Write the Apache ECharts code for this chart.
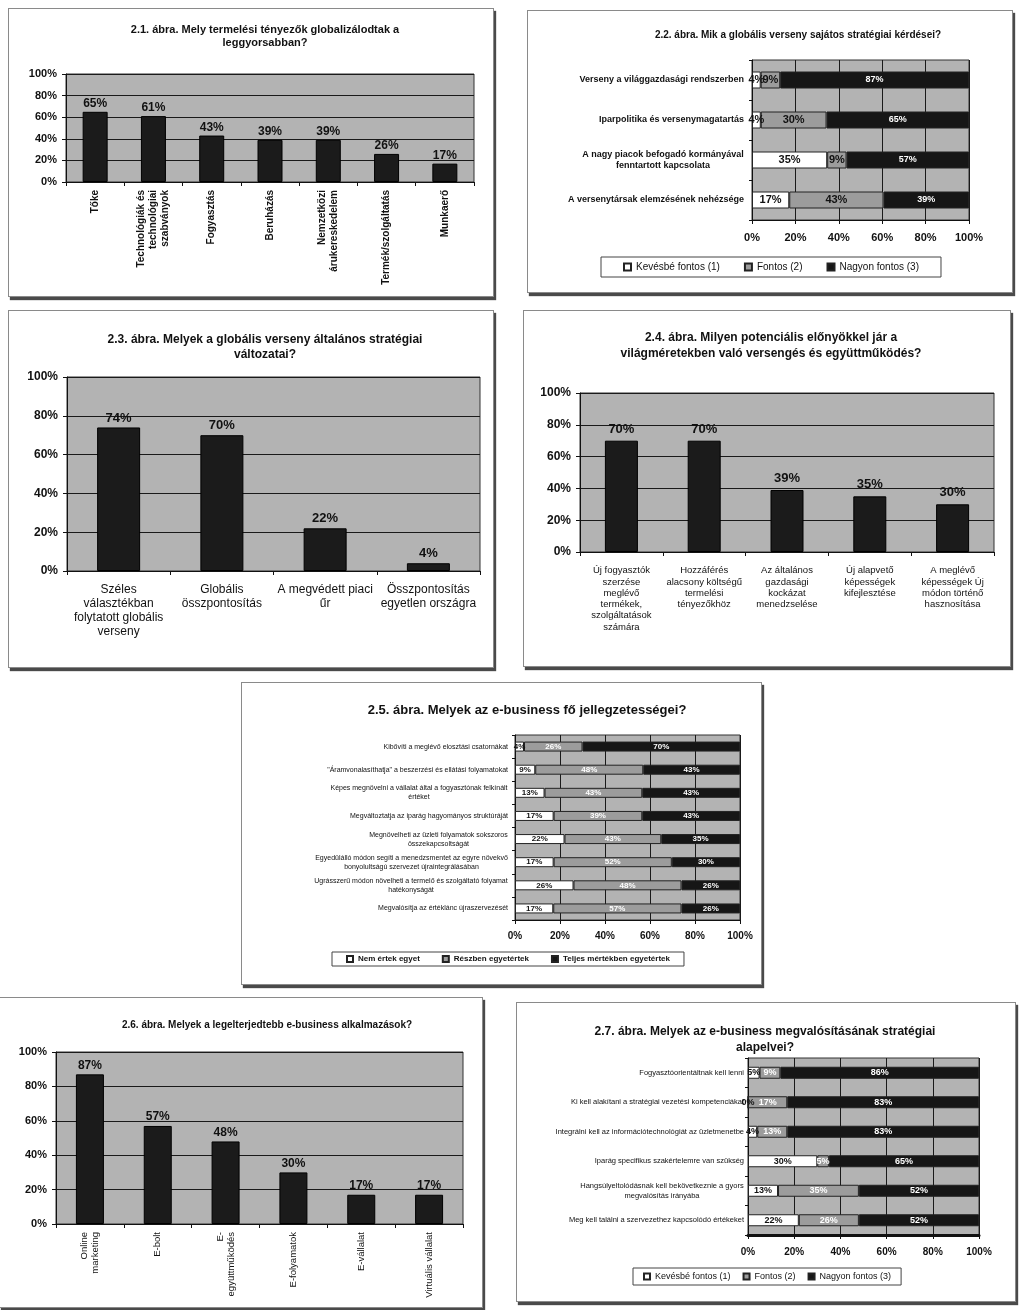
<!DOCTYPE html>
<html><head><meta charset="utf-8">
<script src="https://cdn.jsdelivr.net/npm/echarts@6/dist/echarts.min.js"></script>
<style>
html,body{margin:0;padding:0;background:#fff;width:1024px;height:1310px;overflow:hidden;position:relative}
.panel{position:absolute;background:#fff;border:1px solid #8a8a8a;box-shadow:2px 3px 1px #4a4a4a;box-sizing:border-box}
</style></head><body>
<div id="p1" class="panel" style="left:8px;top:8px;width:486px;height:289px"></div>
<div id="p2" class="panel" style="left:527px;top:10px;width:486px;height:283px"></div>
<div id="p3" class="panel" style="left:8px;top:310px;width:486px;height:358px"></div>
<div id="p4" class="panel" style="left:523px;top:310px;width:488px;height:357px"></div>
<div id="p5" class="panel" style="left:241px;top:682px;width:521px;height:303px"></div>
<div id="p6" class="panel" style="left:-1px;top:997px;width:484px;height:311px"></div>
<div id="p7" class="panel" style="left:516px;top:1002px;width:500px;height:300px"></div>
<script>
// ---------- DATA ----------
const pctMin = 0, pctMax = 100, pctStep = 20;

const p1Title = '2.1. ábra. Mely termelési tényezők globalizálodtak a\nleggyorsabban?';
const p1Categories = ['Tőke', 'Technológiák és\ntechnológiai\nszabványok', 'Fogyasztás', 'Beruházás', 'Nemzetközi\nárukereskedelem', 'Termék/szolgáltatás', 'Munkaerő'];
const p1Values = [65, 61, 43, 39, 39, 26, 17];

const p2Title = '2.2. ábra. Mik a globális verseny sajátos stratégiai kérdései?';
const p2Categories = ['Verseny a világgazdasági rendszerben', 'Iparpolitika és versenymagatartás', 'A nagy piacok befogadó kormányával\nfenntartott kapcsolata', 'A versenytársak elemzésének nehézsége'];
const p2SeriesNames = ['Kevésbé fontos (1)', 'Fontos (2)', 'Nagyon fontos (3)'];
const p2Low = [4, 4, 35, 17];
const p2Mid = [9, 30, 9, 43];
const p2High = [87, 65, 57, 39];

const p3Title = '2.3. ábra. Melyek a globális verseny általános stratégiai\nváltozatai?';
const p3Categories = ['Széles\nválasztékban\nfolytatott globális\nverseny', 'Globális\nösszpontosítás', 'A megvédett piaci\nűr', 'Összpontosítás\negyetlen országra'];
const p3Values = [74, 70, 22, 4];

const p4Title = '2.4. ábra. Milyen potenciális előnyökkel jár a\nvilágméretekben való versengés és együttműködés?';
const p4Categories = ['Új fogyasztók\nszerzése\nmeglévő\ntermékek,\nszolgáltatások\nszámára', 'Hozzáférés\nalacsony költségű\ntermelési\ntényezőkhöz', 'Az általános\ngazdasági\nkockázat\nmenedzselése', 'Új alapvető\nképességek\nkifejlesztése', 'A meglévő\nképességek Új\nmódon történő\nhasznosítása'];
const p4Values = [70, 70, 39, 35, 30];

const p5Title = '2.5. ábra. Melyek az e-business fő jellegzetességei?';
const p5Categories = [
  'Kibővíti a meglévő elosztási csatornákat',
  '"Áramvonalasíthatja" a beszerzési és ellátási folyamatokat',
  'Képes megnövelni a vállalat által a fogyasztónak felkínált\nértéket',
  'Megváltoztatja az iparág hagyományos struktúráját',
  'Megnövelheti az üzleti folyamatok sokszoros\nösszekapcsoltságát',
  'Egyedülálló módon segíti a menedzsmentet az egyre növekvő\nbonyolultságú szervezet újraintegrálásában',
  'Ugrásszerű módon növelheti a termelő és szolgáltató folyamat\nhatékonyságát',
  'Megvalósítja az értéklánc újraszervezését'
];
const p5SeriesNames = ['Nem értek egyet', 'Részben egyetértek', 'Teljes mértékben egyetértek'];
const p5Disagree = [4, 9, 13, 17, 22, 17, 26, 17];
const p5Partly = [26, 48, 43, 39, 43, 52, 48, 57];
const p5Fully = [70, 43, 43, 43, 35, 30, 26, 26];

const p6Title = '2.6. ábra. Melyek a legelterjedtebb e-business alkalmazások?';
const p6Categories = ['Online\nmarketing', 'E-bolt', 'E-\negyüttműködés', 'E-folyamatok', 'E-vállalat', 'Virtuális vállalat'];
const p6Values = [87, 57, 48, 30, 17, 17];

const p7Title = '2.7. ábra. Melyek az e-business megvalósításának stratégiai\nalapelvei?';
const p7Categories = [
  'Fogyasztóorientáltnak kell lenni',
  'Ki kell alakítani a stratégiai vezetési kompetenciákat',
  'Integrálni kell az információtechnológiát az üzletmenetbe',
  'Iparág specifikus szakértelemre van szükség',
  'Hangsúlyeltolódásnak kell bekövetkeznie a gyors\nmegvalósítás irányába',
  'Meg kell találni a szervezethez kapcsolódó értékeket'
];
const p7SeriesNames = ['Kevésbé fontos (1)', 'Fontos (2)', 'Nagyon fontos (3)'];
const p7Low = [5, 0, 4, 30, 13, 22];
const p7Mid = [9, 17, 13, 5, 35, 26];
const p7High = [86, 83, 83, 65, 52, 52];

// ---------- STYLE / HELPERS ----------
const FONT = '"Liberation Sans", Arial, Helvetica, sans-serif';
const BG = '#b3b3b3';
const DARK = '#1b1b1b';
const SEG = ['#ffffff', '#9c9c9c', '#161616'];
const mctx = document.createElement('canvas').getContext('2d');

function centeredRich(cats, size, weight, color) {
  const rich = {};
  cats.forEach((c, i) => {
    const lines = c.split('\n');
    if (lines.length > 1) {
      mctx.font = weight + ' ' + size + 'px ' + FONT;
      const w = Math.ceil(Math.max.apply(null, lines.map(l => mctx.measureText(l).width)));
      rich['c' + i] = { width: w, align: 'center', fontSize: size, fontWeight: weight, fontFamily: FONT, color: color, lineHeight: size + 2 };
    }
  });
  return {
    rich: rich,
    formatter: function (v, i) { return rich['c' + i] ? v.split('\n').map(l => '{c' + i + '|' + l + '}').join('\n') : v; }
  };
}

function titleOpt(c) {
  return { text: c.title, left: c.titleX, top: c.titleY, textAlign: 'center', padding: 0,
    textStyle: { fontFamily: FONT, fontSize: c.titleSize, fontWeight: 'bold', color: '#111', lineHeight: c.titleLH } };
}

function vbar(id, c) {
  const ch = echarts.init(document.getElementById(id));
  ch.setOption({
    animation: false,
    textStyle: { fontFamily: FONT },
    title: titleOpt(c),
    grid: { left: c.grid[0], top: c.grid[1], width: c.grid[2], height: c.grid[3], show: true, backgroundColor: BG, borderColor: '#333', borderWidth: 1 },
    xAxis: { type: 'category', data: c.cats,
      axisLine: { lineStyle: { color: '#111' } },
      axisTick: { show: true, length: 4, lineStyle: { color: '#111' } },
      axisLabel: { interval: 0, rotate: c.rotate || 0, margin: c.xMargin, fontSize: c.xSize, fontWeight: c.xWeight, color: '#111', fontFamily: FONT, lineHeight: c.xLH } },
    yAxis: { type: 'value', min: pctMin, max: pctMax, interval: pctStep,
      axisLine: { show: true, lineStyle: { color: '#111' } },
      axisTick: { show: true, length: 4, lineStyle: { color: '#111' } },
      splitLine: { lineStyle: { color: '#1a1a1a', width: 1 } },
      axisLabel: { formatter: '{value}%', fontSize: c.ySize, fontWeight: 'bold', color: '#111', margin: c.yMargin, fontFamily: FONT } },
    series: [{ type: 'bar', data: c.values, barWidth: c.barWidth,
      itemStyle: { color: DARK, borderColor: '#000', borderWidth: 1 },
      label: { show: true, position: 'top', distance: c.labelDist, formatter: '{c}%', fontSize: c.labelSize, fontWeight: 'bold', color: '#111', fontFamily: FONT } }]
  });
}

function hstack(id, c) {
  const ch = echarts.init(document.getElementById(id));
  const sums = c.cats.map((_, i) => c.series.reduce((s, arr) => s + arr[i], 0));
  const yl = centeredRich(c.cats, c.ySize, c.yWeight, '#111');
  ch.setOption({
    animation: false,
    textStyle: { fontFamily: FONT },
    title: titleOpt(c),
    legend: { data: c.names, left: c.legend[0], top: c.legend[1], icon: 'rect', itemWidth: c.legendIcon, itemHeight: c.legendIcon,
      itemGap: c.legendGap, borderColor: '#444', borderWidth: 1, padding: c.legendPad, selectedMode: false,
      textStyle: { fontFamily: FONT, fontSize: c.legendSize, fontWeight: c.legendWeight, color: '#111' } },
    grid: { left: c.grid[0], top: c.grid[1], width: c.grid[2], height: c.grid[3], show: true, backgroundColor: BG, borderColor: '#333', borderWidth: 1 },
    yAxis: { type: 'category', inverse: true, data: c.cats,
      axisLine: { lineStyle: { color: '#111' } },
      axisTick: { show: true, length: 3, lineStyle: { color: '#111' } },
      axisLabel: { interval: 0, margin: c.yMargin, fontSize: c.ySize, fontWeight: c.yWeight, color: '#111', fontFamily: FONT, lineHeight: c.ySize + 2, rich: yl.rich, formatter: yl.formatter } },
    xAxis: { type: 'value', min: pctMin, max: pctMax, interval: pctStep,
      axisLine: { show: true, lineStyle: { color: '#111', width: c.xAxisW || 1 } },
      axisTick: { show: true, length: 4, lineStyle: { color: '#111' } },
      splitLine: { lineStyle: { color: '#1a1a1a', width: 1 } },
      axisLabel: { formatter: '{value}%', fontSize: c.xSize, fontWeight: 'bold', color: '#111', margin: c.xMargin, fontFamily: FONT } },
    series: c.series.map((arr, k) => ({
      type: 'bar', name: c.names[k], stack: 'total', barWidth: c.barWidth,
      data: arr.map((v, i) => ({ value: v / sums[i] * 100, raw: v })),
      itemStyle: { color: SEG[k], borderColor: '#222', borderWidth: 1 },
      label: { show: true, position: 'inside', formatter: p => p.data.raw + '%', fontSize: c.labelSize[k], fontWeight: 'bold', color: c.labelColor[k], fontFamily: FONT }
    }))
  });
}

// ---------- CHARTS ----------
vbar('p1', { title: p1Title, titleX: 256, titleY: 14, titleSize: 11, titleLH: 13,
  grid: [57, 65, 408, 108], cats: p1Categories, values: p1Values, rotate: 90, xMargin: 8, xSize: 10, xWeight: 'bold', xLH: 12,
  ySize: 11, yMargin: 9, barWidth: 25, labelDist: 2, labelSize: 12 });

hstack('p2', { title: p2Title, titleX: 270, titleY: 18, titleSize: 10, titleLH: 13,
  grid: [224, 49, 217, 160], cats: p2Categories, names: p2SeriesNames, series: [p2Low, p2Mid, p2High],
  ySize: 9, yWeight: 'bold', yMargin: 8, xSize: 11, xMargin: 12, barWidth: 17,
  labelSize: [11, 11, 9], labelColor: ['#111', '#111', '#fff'],
  legend: [73, 246], legendIcon: 7, legendGap: 24, legendPad: [5, 22, 5, 22], legendSize: 10, legendWeight: 'normal' });

vbar('p3', { title: p3Title, titleX: 256, titleY: 21, titleSize: 12, titleLH: 15,
  grid: [58, 66, 413, 194], cats: p3Categories, values: p3Values, xMargin: 12, xSize: 12, xWeight: 'normal', xLH: 14,
  ySize: 12, yMargin: 9, barWidth: 43, labelDist: 3, labelSize: 13 });

vbar('p4', { title: p4Title, titleX: 247, titleY: 19, titleSize: 12, titleLH: 16,
  grid: [56, 82, 414, 159], cats: p4Categories, values: p4Values, xMargin: 13, xSize: 9.5, xWeight: 'normal', xLH: 11.3,
  ySize: 12, yMargin: 9, barWidth: 33, labelDist: 5, labelSize: 13 });

hstack('p5', { title: p5Title, titleX: 285, titleY: 20, titleSize: 13, titleLH: 15,
  grid: [273, 52, 225, 185], cats: p5Categories, names: p5SeriesNames, series: [p5Disagree, p5Partly, p5Fully],
  ySize: 7, yWeight: 'normal', yMargin: 7, xSize: 10, xMargin: 11, barWidth: 10,
  labelSize: [8, 8, 8], labelColor: ['#111', '#fff', '#fff'],
  legend: [90, 269], legendIcon: 6, legendGap: 22, legendPad: [3, 14, 3, 14], legendSize: 8, legendWeight: 'bold' });

vbar('p6', { title: p6Title, titleX: 267, titleY: 21, titleSize: 10, titleLH: 13,
  grid: [56, 54, 407, 172], cats: p6Categories, values: p6Values, rotate: 90, xMargin: 8, xSize: 9.5, xWeight: 'normal', xLH: 11,
  ySize: 11, yMargin: 9, barWidth: 28, labelDist: 3, labelSize: 12 });

hstack('p7', { title: p7Title, titleX: 248, titleY: 21, titleSize: 12, titleLH: 16,
  grid: [231, 55, 231, 177], cats: p7Categories, names: p7SeriesNames, series: [p7Low, p7Mid, p7High],
  ySize: 7.5, yWeight: 'normal', yMargin: 4, xSize: 10, xMargin: 12, barWidth: 12, xAxisW: 3,
  labelSize: [9, 9, 9], labelColor: ['#111', '#fff', '#fff'],
  legend: [116, 265], legendIcon: 6, legendGap: 12, legendPad: [4, 10, 4, 10], legendSize: 9, legendWeight: 'normal' });
</script>
</body></html>
